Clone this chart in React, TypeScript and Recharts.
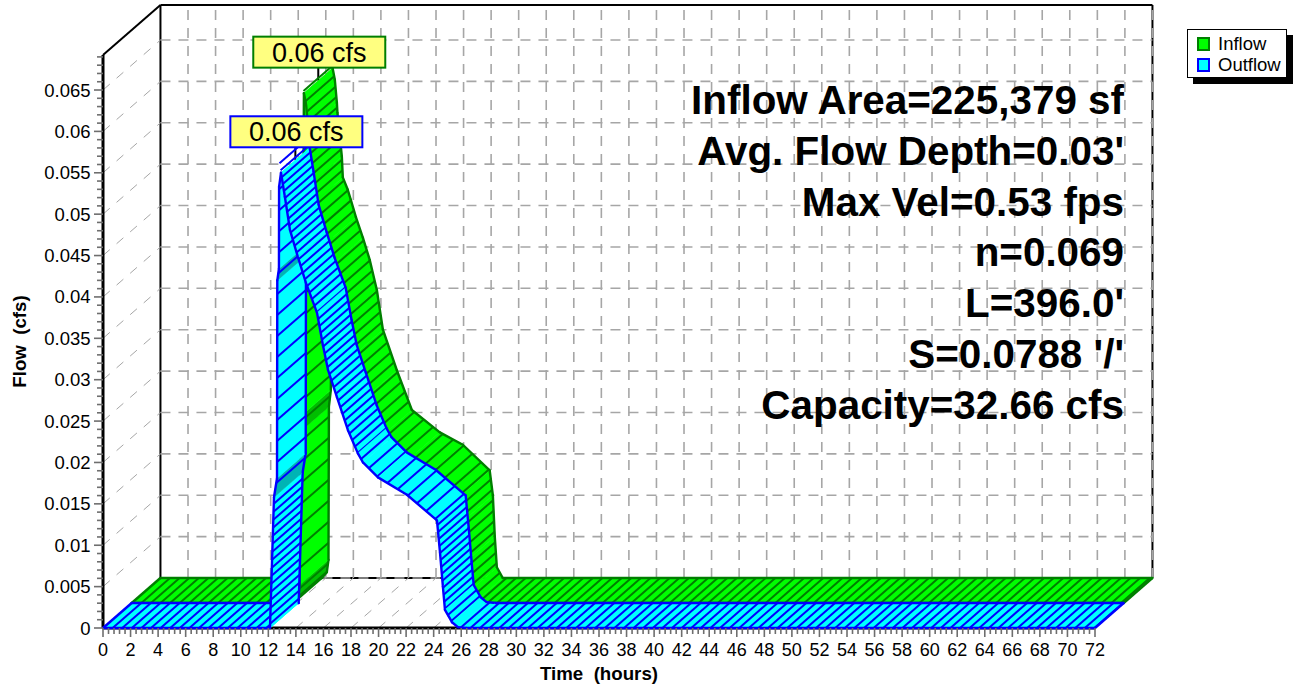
import React from "react";
import { ComposedChart, Line, XAxis, YAxis, ReferenceLine, Legend } from "recharts";

const inflowHours = [0, 11.72, 12.08, 12.2, 12.23, 12.37, 12.5, 12.66, 12.81, 12.85, 13.17, 13.24, 13.6, 13.82, 14.19, 14.7, 15.2, 15.71, 16.15, 17.16, 18.25, 20.28, 21.95, 23.9, 24.13, 24.27, 24.42, 24.85, 72];
const inflowFlow = [0, 0, 0.0007, 0.0022, 0.0207, 0.0227, 0.0616, 0.0602, 0.0574, 0.0562, 0.0509, 0.0484, 0.0469, 0.0457, 0.0436, 0.0411, 0.0384, 0.0348, 0.03, 0.0251, 0.0203, 0.0176, 0.0161, 0.013, 0.01, 0.005, 0.0013, 0, 0];
const inflowShaded = [1, 2, 4];

const outflowHours = [0, 12.12, 12.41, 12.63, 12.65, 12.77, 12.78, 12.92, 13.2, 13.57, 14.15, 14.73, 15.53, 15.96, 16.33, 16.98, 17.78, 18.5, 18.87, 19.96, 22.06, 24.24, 24.46, 24.67, 24.82, 25.33, 25.76, 26.4, 72];
const outflowFlow = [0, 0, 0.0158, 0.0181, 0.042, 0.0434, 0.0533, 0.055, 0.0521, 0.0481, 0.0448, 0.0417, 0.0381, 0.0342, 0.0312, 0.0279, 0.0239, 0.0211, 0.02, 0.0182, 0.0161, 0.013, 0.0091, 0.005, 0.0022, 0.0007, 0.0001, 0, 0];
const outflowShaded = [2, 4];

const flowLabels = [0, 0.005, 0.01, 0.015, 0.02, 0.025, 0.03, 0.035, 0.04, 0.045, 0.05, 0.055, 0.06, 0.065];
const hourLabels = [0, 2, 4, 6, 8, 10, 12, 14, 16, 18, 20, 22, 24, 26, 28, 30, 32, 34, 36, 38, 40, 42, 44, 46, 48, 50, 52, 54, 56, 58, 60, 62, 64, 66, 68, 70, 72];
const notes = ["Inflow Area=225,379 sf", "Avg. Flow Depth=0.03'", "Max Vel=0.53 fps", "n=0.069", "L=396.0'", "S=0.0788 '/'", "Capacity=32.66 cfs"];

const FLOW_MAX = 0.06923;
// how far the back wall sits behind the front plane, in axis units
const BACK_T = 4.17;
const BACK_Y = 0.00604;
const FONT = "'Liberation Sans', Arial, sans-serif";

const minorFlow = Array.from({ length: 70 }, (_, i) => i / 1000);
const minorHours = Array.from({ length: 181 }, (_, i) => Math.round(i * 4) / 10);

const toRows = (hours: number[], flow: number[]) => hours.map((t, i) => ({ t, flow: flow[i] }));
const inflowRows = toRows(inflowHours, inflowFlow);
const outflowRows = toRows(outflowHours, outflowFlow);

function hatchGap(dx: number, dy: number, coarse: number, low: boolean) {
  const flat = Math.abs(dy) < 3 && Math.abs(dx) > 10;
  if (flat) return 9.6;
  if (dy < 0) return low ? 8 : 21; // rising limb
  if (Math.abs(dy) < Math.abs(dx) * 1.1) return 12;
  return 7 * coarse;
}

function makeRibbon(opts: {
  front: number;
  fill: string;
  dark: string;
  stroke: string;
  shaded: number[];
  coarse: number;
  peak: string;
}) {
  const dx = 28.7;
  const dy = 25;
  return function Ribbon(props: any) {
    if (props.index !== 0) return <g key={props.index} />;
    const pts: { x: number; y: number }[] = props.points;
    const fx = opts.front * dx;
    const fy = opts.front * dy;
    const A = (p: { x: number; y: number }) => [p.x + fx, p.y - fy];
    const B = (p: { x: number; y: number }) => [p.x + fx + dx, p.y - fy - dy];
    const parts: React.ReactNode[] = [];
    let carry = 0;
    for (let i = 0; i < pts.length - 1; i++) {
      const p = pts[i];
      const q = pts[i + 1];
      const a1 = A(p), a2 = A(q), b1 = B(p), b2 = B(q);
      const color = opts.shaded.includes(i) ? opts.dark : opts.fill;
      parts.push(
        <polygon key={`q${i}`} points={`${a1} ${a2} ${b2} ${b1}`} fill={color} stroke={color} strokeWidth={0.6} />
      );
      const sx = q.x - p.x;
      const sy = q.y - p.y;
      const len = Math.hypot(sx, sy);
      const gap = hatchGap(sx, sy, opts.coarse, p.y > 500 && q.y > 490);
      let s = gap - carry;
      let h = 0;
      while (s < len) {
        const f = s / len;
        const hx = p.x + sx * f + fx;
        const hy = p.y + sy * f - fy;
        parts.push(<line key={`h${i}-${h++}`} x1={hx} y1={hy} x2={hx + dx} y2={hy - dy} stroke={opts.stroke} strokeWidth={2} />);
        s += gap;
      }
      carry = len - (s - gap);
      parts.push(<line key={`a${i}`} x1={a1[0]} y1={a1[1]} x2={a2[0]} y2={a2[1]} stroke={opts.stroke} strokeWidth={2.4} strokeLinecap="round" />);
      parts.push(<line key={`b${i}`} x1={b1[0]} y1={b1[1]} x2={b2[0]} y2={b2[1]} stroke={opts.stroke} strokeWidth={2.4} strokeLinecap="round" />);
    }
    const a0 = A(pts[0]), b0 = B(pts[0]);
    const last = pts[pts.length - 1];
    const a9 = A(last), b9 = B(last);
    parts.push(<line key="c0" x1={a0[0]} y1={a0[1]} x2={b0[0]} y2={b0[1]} stroke={opts.stroke} strokeWidth={2.4} />);
    parts.push(<line key="c9" x1={a9[0]} y1={a9[1]} x2={b9[0]} y2={b9[1]} stroke={opts.stroke} strokeWidth={2.4} />);

    // callout sits on the middle of the ribbon at its peak
    const top = pts.reduce((m, c) => (c.y < m.y ? c : m), pts[0]);
    const mx = top.x + fx + dx / 2;
    const my = top.y - fy - dy / 2;
    const boxBottom = my - 13;
    return (
      <g key="ribbon">
        <line x1={mx} y1={my} x2={mx} y2={boxBottom} stroke="#000" strokeWidth={2} />
        {parts}
        <rect x={mx - 65} y={boxBottom - 31} width={132} height={31} fill="#FFFF80" stroke={opts.stroke} strokeWidth={2} />
        <text x={mx + 1} y={boxBottom - 6} textAnchor="middle" fontFamily={FONT} fontSize={27} fill="#000">
          {opts.peak}
        </text>
      </g>
    );
  };
}

const inflowRibbon = makeRibbon({ front: 1, fill: "#00FF00", dark: "#00BE00", stroke: "#007F00", shaded: inflowShaded, coarse: 1.5, peak: "0.06 cfs" });
const outflowRibbon = makeRibbon({ front: 0, fill: "#00FFFF", dark: "#00B4B4", stroke: "#0000FF", shaded: outflowShaded, coarse: 1, peak: "0.06 cfs" });

const TICK = "#6E6E6E";

const FlowTick = (props: any) => {
  const { x, y, payload } = props;
  const major = Math.round(payload.value * 1000) % 5 === 0;
  return (
    <g>
      <line x1={x} y1={y} x2={x - (major ? 9 : 6)} y2={y} stroke={TICK} strokeWidth={1.6} />
      {major && (
        <text x={x - 12.5} y={y + 6.5} textAnchor="end" fontFamily={FONT} fontSize={18.5} fill="#000">
          {Math.round(payload.value * 1000) / 1000}
        </text>
      )}
    </g>
  );
};

const HourTick = (props: any) => {
  const { x, y, payload } = props;
  const major = Math.round(payload.value * 10) % 20 === 0;
  return (
    <g>
      <line x1={x} y1={y} x2={x} y2={y + (major ? 9 : 6)} stroke={TICK} strokeWidth={1.6} />
      {major && (
        <text x={x} y={y + 28} textAnchor="middle" fontFamily={FONT} fontSize={18} fill="#000">
          {Math.round(payload.value)}
        </text>
      )}
    </g>
  );
};

const LegendBox = () => (
  <div style={{ width: 100, height: 49, boxSizing: "border-box", border: "1px solid #000", background: "#fff", boxShadow: "6px 6px 0 #000", fontFamily: FONT, fontSize: 18.5, lineHeight: "21px", padding: "3px 0 0 9px", color: "#000" }}>
    {[["Inflow", "#00FF00", "#007F00"], ["Outflow", "#00FFFF", "#0000FF"]].map(([name, fill, border]) => (
      <div key={name} style={{ display: "flex", alignItems: "center", height: 21 }}>
        <span style={{ width: 13, height: 14, boxSizing: "border-box", background: fill, border: `2px solid ${border}`, marginRight: 8 }} />
        {name}
      </div>
    ))}
  </div>
);

const GRID = "#A6A6A6";
const seg = (x1: number, y1: number, x2: number, y2: number) => [{ x: x1, y: y1 }, { x: x2, y: y2 }] as any;

export default function App() {
  const backTop = FLOW_MAX + BACK_Y;
  return (
    <div style={{ position: "absolute", left: 0, top: 0, width: 1294, height: 684, background: "#fff", overflow: "hidden" }}>
      <ComposedChart width={1294} height={684} margin={{ top: 55, right: 99, bottom: 0, left: 0 }}>
        <XAxis
          type="number"
          dataKey="t"
          domain={[0, 72]}
          ticks={minorHours}
          interval={0}
          height={56}
          tick={HourTick}
          tickLine={false}
          tickSize={0}
          tickMargin={0}
          axisLine={{ stroke: "#000", strokeWidth: 3 }}
          label={{ value: "Time\u00A0\u00A0(hours)", position: "insideBottom", offset: 4, style: { fontFamily: FONT, fontSize: 18.7, fontWeight: 700, fill: "#000" } }}
        />
        <YAxis
          type="number"
          domain={[0, FLOW_MAX]}
          ticks={minorFlow}
          interval={0}
          width={103}
          tick={FlowTick}
          tickLine={false}
          tickSize={0}
          tickMargin={0}
          axisLine={{ stroke: "#000", strokeWidth: 3 }}
          label={{ value: "Flow\u00A0\u00A0(cfs)", angle: -90, position: "insideLeft", offset: 19, style: { fontFamily: FONT, fontSize: 18.7, fontWeight: 700, fill: "#000", textAnchor: "middle" } }}
        />

        {/* wire frame of the box */}
        <ReferenceLine segment={seg(0, FLOW_MAX, BACK_T, backTop)} stroke="#000" strokeWidth={2} ifOverflow="visible" />
        <ReferenceLine segment={seg(BACK_T, backTop, 72 + BACK_T, backTop)} stroke="#000" strokeWidth={2} ifOverflow="visible" />
        <ReferenceLine segment={seg(BACK_T, BACK_Y, BACK_T, backTop)} stroke="#000" strokeWidth={2} ifOverflow="visible" />
        <ReferenceLine segment={seg(72 + BACK_T, BACK_Y, 72 + BACK_T, backTop)} stroke="#000" strokeWidth={2} ifOverflow="visible" />
        <ReferenceLine segment={seg(BACK_T, BACK_Y, 72 + BACK_T, BACK_Y)} stroke="#000" strokeWidth={2} ifOverflow="visible" />

        {/* back wall, side wall and floor grid */}
        {flowLabels.map((v) => (
          <ReferenceLine key={`bh${v}`} segment={seg(BACK_T, v + BACK_Y, 72 + BACK_T, v + BACK_Y)} stroke={GRID} strokeWidth={1.6} strokeDasharray="10 8" ifOverflow="visible" />
        ))}
        {hourLabels.slice(1).map((t) => (
          <ReferenceLine key={`bv${t}`} segment={seg(t + BACK_T, BACK_Y, t + BACK_T, backTop)} stroke={GRID} strokeWidth={1.6} strokeDasharray="10 8" ifOverflow="visible" />
        ))}
        {flowLabels.slice(1).map((v) => (
          <ReferenceLine key={`sw${v}`} segment={seg(0, v, BACK_T, v + BACK_Y)} stroke={GRID} strokeWidth={1} strokeDasharray="9 9" ifOverflow="visible" />
        ))}
        {hourLabels.slice(1).map((t) => (
          <ReferenceLine key={`fl${t}`} segment={seg(t, 0, t + BACK_T, BACK_Y)} stroke={GRID} strokeWidth={1} strokeDasharray="9 9" ifOverflow="visible" />
        ))}

        <Line name="Inflow" data={inflowRows} dataKey="flow" stroke="none" dot={inflowRibbon} activeDot={false} legendType="square" isAnimationActive={false} />
        <Line name="Outflow" data={outflowRows} dataKey="flow" stroke="none" dot={outflowRibbon} activeDot={false} legendType="square" isAnimationActive={false} />

        <Legend content={LegendBox} layout="vertical" align="right" verticalAlign="top" wrapperStyle={{ position: "absolute", left: 1187, top: 29, width: 100, height: 49 }} />
      </ComposedChart>

      <div style={{ position: "absolute", right: 170, top: 75, textAlign: "right", fontFamily: FONT, fontWeight: 700, fontSize: 40.4, lineHeight: "50.8px", color: "#000", whiteSpace: "nowrap" }}>
        {notes.map((n) => (
          <div key={n}>{n}</div>
        ))}
      </div>
    </div>
  );
}
